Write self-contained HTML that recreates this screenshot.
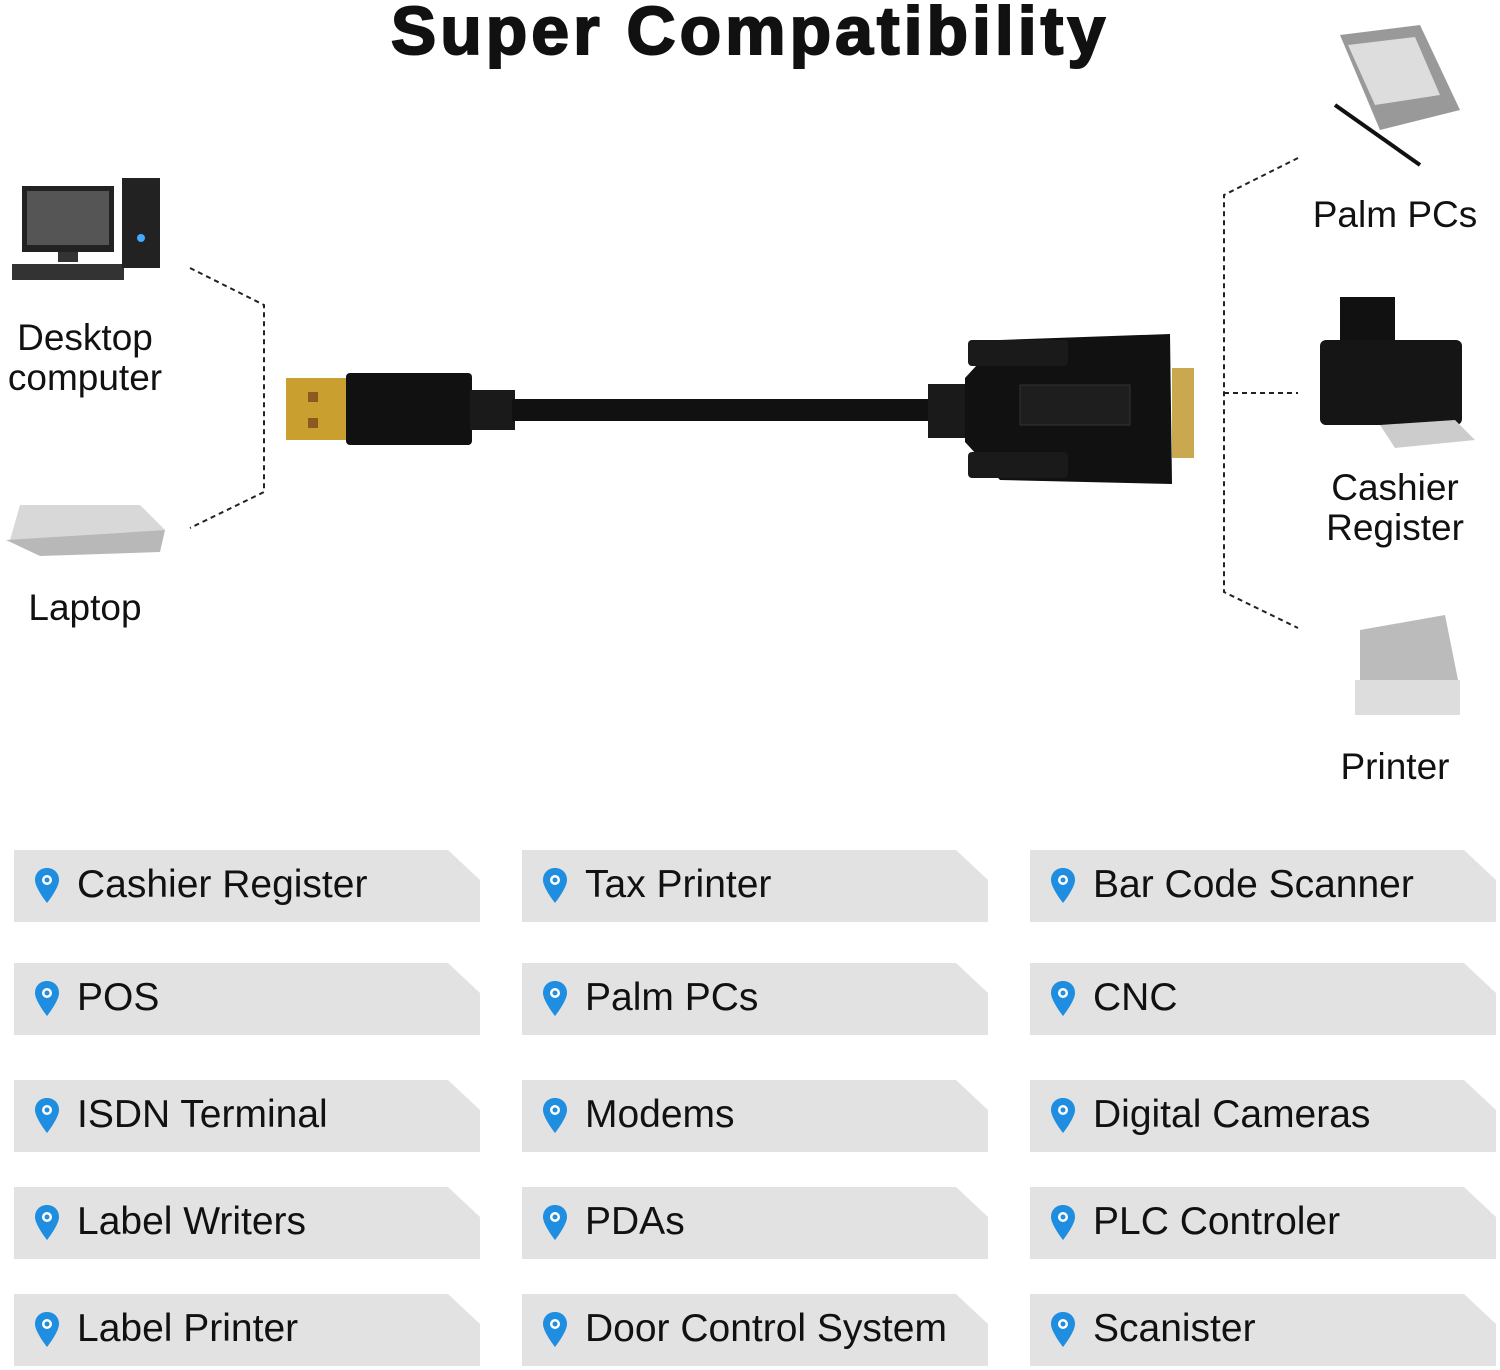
<!DOCTYPE html>
<html><head><meta charset="utf-8"><style>
body{margin:0;width:1500px;height:1370px;background:#fff;position:relative;overflow:hidden;font-family:"Liberation Sans",Arial,sans-serif;}
.t{position:absolute;color:#111;}
.box{position:absolute;width:466px;height:72px;background:#e2e2e2;clip-path:polygon(0 0,434px 0,466px 30px,466px 72px,0 72px);}
.box span{position:absolute;left:63px;top:13px;font-size:39px;color:#111;white-space:nowrap;}
.box svg{position:absolute;left:20px;top:17px;}
.lab{position:absolute;font-size:37px;text-align:center;line-height:40px;color:#111;}
</style></head><body>
<div class="t" style="left:0;width:1500px;top:-8px;text-align:center;font-size:68px;font-weight:bold;letter-spacing:4px;-webkit-text-stroke:2px #111;">Super Compatibility</div>

<svg width="1500" height="820" style="position:absolute;left:0;top:0">
<g stroke="#222" stroke-width="2" stroke-dasharray="5,4" fill="none">
<polyline points="190,268 264,305 264,492 190,528"/>
<polyline points="1298,158 1224,195 1224,592 1298,628"/>
<line x1="1224" y1="393" x2="1298" y2="393"/>
</g>
<rect x="22" y="186" width="92" height="66" fill="#222"/><rect x="27" y="191" width="82" height="54" fill="#555"/>
<rect x="58" y="252" width="20" height="10" fill="#333"/><rect x="12" y="264" width="112" height="16" fill="#333"/>
<rect x="122" y="178" width="38" height="90" fill="#222"/><circle cx="141" cy="238" r="4" fill="#4af"/>
<polygon points="20,505 140,505 165,530 10,540" fill="#d8d8d8"/><polygon points="6,540 165,530 160,552 40,556" fill="#b8b8b8"/>
<rect x="286" y="378" width="62" height="62" fill="#c9a030"/>
<rect x="308" y="392" width="10" height="10" fill="#8a5a20"/><rect x="308" y="418" width="10" height="10" fill="#8a5a20"/>
<rect x="346" y="373" width="126" height="72" rx="4" fill="#111"/>
<rect x="470" y="390" width="45" height="40" fill="#1a1a1a"/>
<rect x="512" y="399" width="420" height="22" fill="#111"/>
<rect x="928" y="384" width="40" height="54" fill="#1a1a1a"/>
<polygon points="965,378 1000,340 1170,334 1172,484 1000,480 965,442" fill="#111"/>
<rect x="1020" y="385" width="110" height="40" fill="#1e1e1e" stroke="#333"/>
<rect x="968" y="340" width="100" height="26" rx="4" fill="#1a1a1a"/><rect x="968" y="452" width="100" height="26" rx="4" fill="#1a1a1a"/>
<rect x="1172" y="368" width="22" height="90" fill="#c9a850"/>
<polygon points="1340,35 1420,25 1460,110 1380,130" fill="#999"/><polygon points="1348,45 1415,37 1440,95 1375,105" fill="#ddd"/>
<line x1="1335" y1="105" x2="1420" y2="165" stroke="#111" stroke-width="4"/>
<rect x="1340" y="297" width="55" height="50" fill="#111"/><rect x="1320" y="340" width="142" height="85" rx="6" fill="#151515"/>
<polygon points="1380,425 1455,420 1475,440 1395,448" fill="#ccc"/>
<polygon points="1360,630 1445,615 1460,690 1360,705" fill="#bbb"/><rect x="1355" y="680" width="105" height="35" fill="#ddd"/>
</svg>

<div class="lab" style="left:0;width:170px;top:318px;">Desktop<br>computer</div>
<div class="lab" style="left:0;width:170px;top:588px;">Laptop</div>
<div class="lab" style="left:1295px;width:200px;top:195px;">Palm PCs</div>
<div class="lab" style="left:1295px;width:200px;top:468px;">Cashier<br>Register</div>
<div class="lab" style="left:1295px;width:200px;top:747px;">Printer</div>

<div id="boxes"></div>
<script>
var items=[["Cashier Register","Tax Printer","Bar Code Scanner"],["POS","Palm PCs","CNC"],["ISDN Terminal","Modems","Digital Cameras"],["Label Writers","PDAs","PLC Controler"],["Label Printer","Door Control System","Scanister"]];
var ys=[850,963,1080,1187,1294],xs=[14,522,1030],h="";
var pin='<svg width="26" height="38" viewBox="0 0 26 38"><path d="M13 1C6 1 1 6 1 13c0 8 12 23 12 23s12-15 12-23C25 6 20 1 13 1z" fill="#1f8ee0"/><circle cx="13" cy="13" r="5" fill="#fff"/><circle cx="13" cy="13" r="2.5" fill="#1f8ee0"/></svg>';
for(var r=0;r<5;r++)for(var c=0;c<3;c++)h+='<div class="box" style="left:'+xs[c]+'px;top:'+ys[r]+'px">'+pin+'<span>'+items[r][c]+'</span></div>';
document.getElementById("boxes").innerHTML=h;
</script>
</body></html>
